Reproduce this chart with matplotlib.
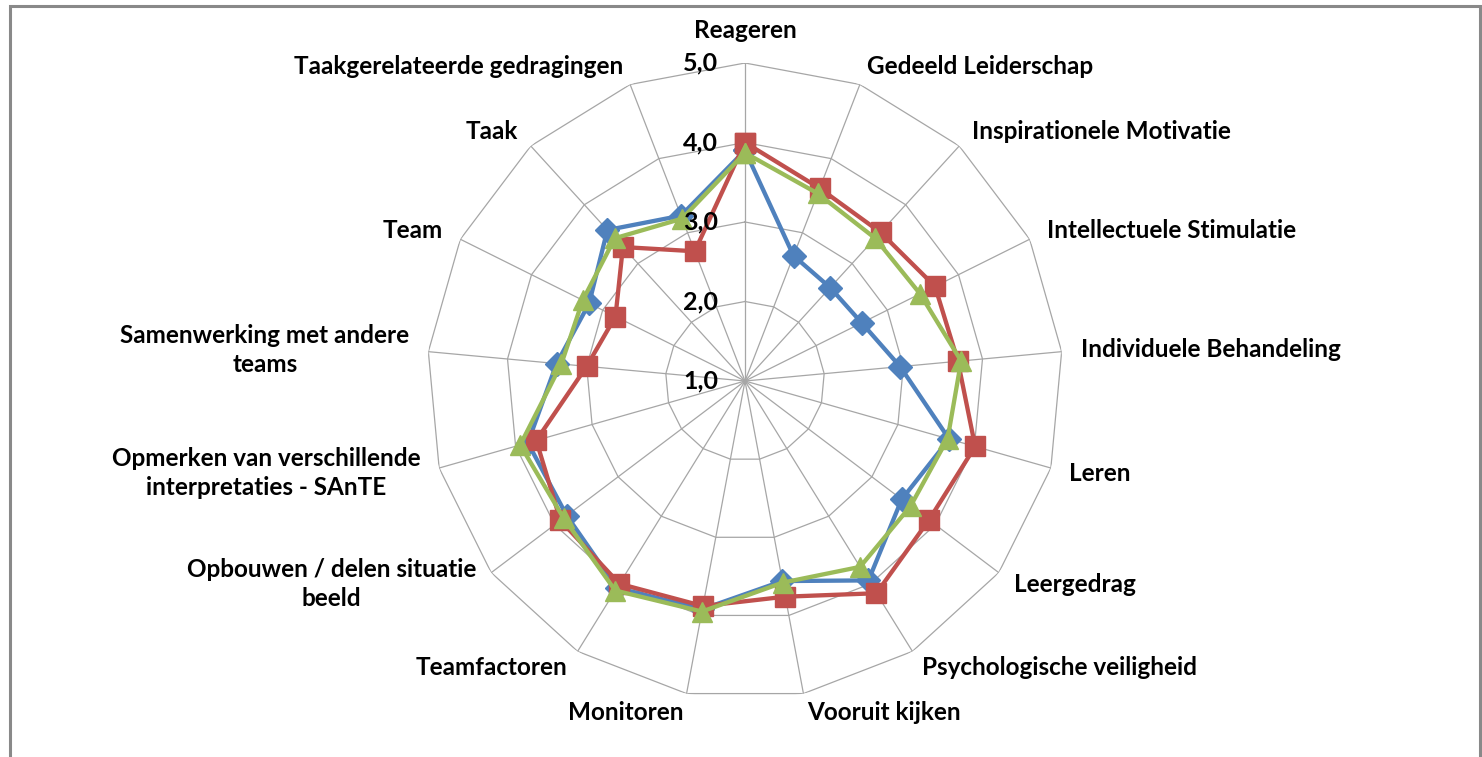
import matplotlib.pyplot as plt
import numpy as np

categories = [
    'Reageren', 'Gedeeld Leiderschap', 'Inspirationele Motivatie',
    'Intellectuele Stimulatie', 'Individuele Behandeling', 'Leren',
    'Leergedrag', 'Psychologische veiligheid', 'Vooruit kijken',
    'Monitoren', 'Teamfactoren', 'Opbouwen / delen situatie\nbeeld',
    'Opmerken van verschillende\ninterpretaties - SAnTE',
    'Samenwerking met andere\nteams', 'Team', 'Taak',
    'Taakgerelateerde gedragingen',
]
series_blue = [3.90, 2.69, 2.59, 2.64, 2.96, 3.67, 3.47, 3.95, 3.56,
               3.92, 4.06, 3.81, 3.84, 3.38, 3.19, 3.57, 3.23]
series_red = [4.00, 3.60, 3.53, 3.67, 3.69, 4.01, 3.90, 4.14, 3.76,
              3.88, 4.00, 3.91, 3.73, 3.00, 2.82, 3.28, 2.75]
series_green = [3.87, 3.53, 3.43, 3.46, 3.73, 3.65, 3.61, 3.75, 3.58,
                3.95, 4.10, 3.86, 3.94, 3.32, 3.28, 3.43, 3.19]
ring_ticks = [1.0, 2.0, 3.0, 4.0, 5.0]

plt.rcParams['font.family'] = ['Lato', 'DejaVu Sans']

W, H = 1482, 757
fig = plt.figure(figsize=(W / 100, H / 100), dpi=100)

# radar area: centre and outer radius in pixels
cx, cy, R = 745, 381, 318
ax = fig.add_axes([(cx - R) / W, 1 - (cy + R) / H, 2 * R / W, 2 * R / H],
                  projection='polar')
ax.set_theta_zero_location('N')
ax.set_theta_direction(-1)
ax.set_ylim(ring_ticks[0], ring_ticks[-1])
ax.grid(False)
ax.spines['polar'].set_visible(False)
ax.set_xticks([])
ax.set_yticks([])

n = len(categories)
angles = np.linspace(0, 2 * np.pi, n, endpoint=False)
closed = np.append(angles, angles[0])

grid_col = '#A6A6A6'
for v in ring_ticks[1:]:
    ax.plot(closed, [v] * (n + 1), color=grid_col, lw=0.9, zorder=1)
for a in angles:
    ax.plot([a, a], [ring_ticks[0], ring_ticks[-1]], color=grid_col, lw=0.9, zorder=1)

styles = [
    (series_blue, '#4F81BD', 'D', 12),
    (series_red, '#C0504D', 's', 14),
    (series_green, '#9BBB59', '^', 15),
]
for vals, col, mk, ms in styles:
    ax.plot(closed, list(vals) + [vals[0]], color=col, lw=3.1, marker=mk,
            markersize=ms, markeredgecolor=col, clip_on=False, zorder=3)

for v in ring_ticks:
    ax.annotate(f'{v:.1f}'.replace('.', ','), xy=(0, v), xytext=(-27, 0),
                textcoords='offset pixels', ha='right', va='center',
                fontsize=18, fontweight='bold', zorder=4)

for a, lab in zip(angles, categories):
    s, c = np.sin(a), np.cos(a)
    if abs(s) < 0.01:
        ha, va, off = 'center', 'bottom', (0, 21)
    else:
        ha = 'left' if s > 0 else 'right'
        va = 'center'
        off = (19 * s, 19 * c)
    ax.annotate(lab, xy=(a, ring_ticks[-1]), xytext=off,
                textcoords='offset pixels', ha=ha, va=va, multialignment='center',
                fontsize=17.5, fontweight='bold', linespacing=1.3,
                annotation_clip=False)

# outer chart frame
fig.add_artist(plt.Rectangle((9.5 / W, -0.1), (1480 - 9.5) / W, 1 - 5.5 / H + 0.1,
                             transform=fig.transFigure, fill=False,
                             ec='#898989', lw=2.2))

fig.savefig('out.png', dpi=100)
